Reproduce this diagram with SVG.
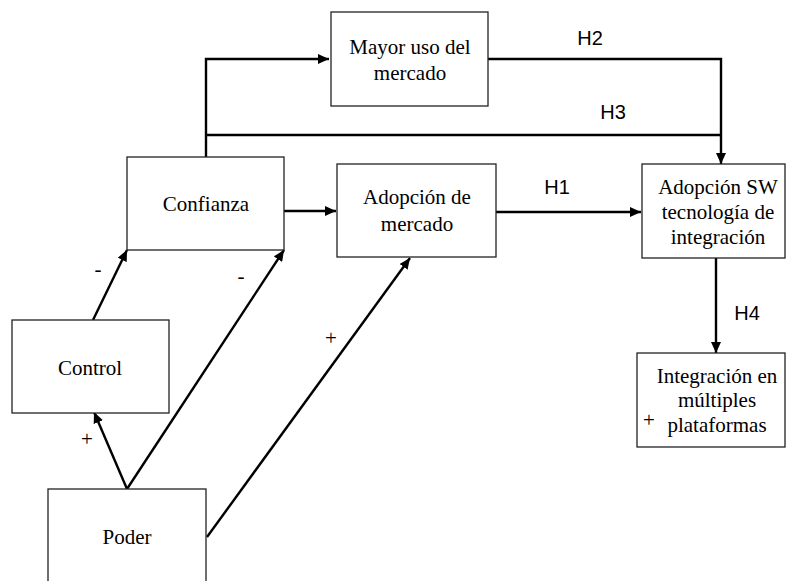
<svg xmlns="http://www.w3.org/2000/svg" width="788" height="581" viewBox="0 0 788 581">
<style>
.box{fill:#fff;stroke:#222;stroke-width:1.3}
.t{font-family:'Liberation Serif','DejaVu Serif',serif;font-size:21px;fill:#000;text-anchor:middle}
.h{font-family:'Liberation Sans',Arial,sans-serif;font-size:20px;fill:#000;text-anchor:middle}
.c{fill:none;stroke:#000;stroke-width:2.4}
</style>
<defs>
<marker id="ar" markerUnits="userSpaceOnUse" markerWidth="12" markerHeight="10" refX="11" refY="5" orient="auto">
<path d="M0,0 L11,5 L0,10 z" fill="#000"/>
</marker>
</defs>
<rect width="788" height="581" fill="#fff"/>
<g id="connectors">
<polyline class="c" points="206,157 206,59 329,59" marker-end="url(#ar)"/>
<line class="c" x1="206" y1="135" x2="721" y2="135"/>
<polyline class="c" points="488,59 721,59 721,164" marker-end="url(#ar)"/>
<line class="c" x1="284" y1="211" x2="336" y2="211" marker-end="url(#ar)"/>
<line class="c" x1="496" y1="212" x2="641" y2="212" marker-end="url(#ar)"/>
<line class="c" x1="716" y1="258" x2="716" y2="353" marker-end="url(#ar)"/>
<line class="c" x1="93" y1="320" x2="127" y2="250" marker-end="url(#ar)"/>
<line class="c" x1="127" y1="489" x2="94" y2="412" marker-end="url(#ar)"/>
<line class="c" x1="127" y1="489" x2="284" y2="250" marker-end="url(#ar)"/>
<line class="c" x1="207" y1="537" x2="410" y2="258" marker-end="url(#ar)"/>
</g>
<g id="mayor">
<rect class="box" x="331" y="12" width="157" height="94"/>
<text class="t" x="410" y="54" font-family="Liberation Serif">Mayor uso del</text>
<text class="t" x="410" y="80" font-family="Liberation Serif">mercado</text>
</g>
<g id="confianza">
<rect class="box" x="127" y="157" width="157" height="93"/>
<text class="t" x="206" y="211">Confianza</text>
</g>
<g id="adopcion-mercado">
<rect class="box" x="337" y="164" width="159" height="93"/>
<text class="t" x="417" y="204">Adopción de</text>
<text class="t" x="417" y="231">mercado</text>
</g>
<g id="adopcion-sw">
<rect class="box" x="642" y="164" width="143" height="94"/>
<text class="t" x="718" y="194">Adopción SW</text>
<text class="t" x="718" y="219">tecnología de</text>
<text class="t" x="718" y="244">integración</text>
</g>
<g id="integracion">
<rect class="box" x="637" y="353" width="148" height="94"/>
<text class="t" x="717" y="383">Integración en</text>
<text class="t" x="717" y="407">múltiples</text>
<text class="t" x="717" y="432">plataformas</text>
</g>
<g id="control">
<rect class="box" x="12" y="320" width="157" height="93"/>
<text class="t" x="90" y="375">Control</text>
</g>
<g id="poder">
<rect class="box" x="48" y="489" width="158" height="100"/>
<text class="t" x="127" y="544">Poder</text>
</g>
<g id="labels">
<text class="h" x="590" y="45">H2</text>
<text class="h" x="613" y="119">H3</text>
<text class="h" x="557" y="194">H1</text>
<text class="h" x="747" y="320">H4</text>
<text class="t" x="98" y="276">-</text>
<text class="t" x="241" y="283">-</text>
<text class="t" x="87" y="446">+</text>
<text class="t" x="331" y="345">+</text>
<text class="t" x="649" y="427">+</text>
</g>
</svg>
